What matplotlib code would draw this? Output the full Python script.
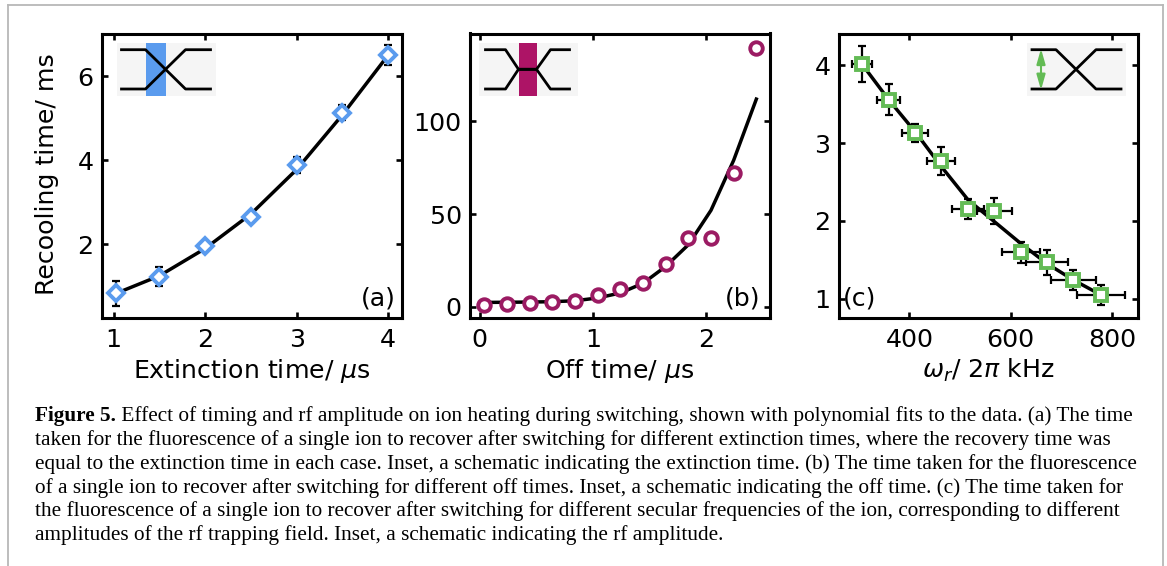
import matplotlib
matplotlib.use("Agg")
import matplotlib.pyplot as plt
from matplotlib.patches import Rectangle
from matplotlib.lines import Line2D

W, H = 1167, 566

# Panel (a)
a_x = [1.025, 1.5, 2.0, 2.5, 3.0, 3.5, 4.0]
a_y = [0.83, 1.23, 1.95, 2.66, 3.89, 5.13, 6.50]
a_yerr = [0.30, 0.22, 0.12, 0.12, 0.20, 0.18, 0.24]
a_fit = [0.83, 1.25, 1.90, 2.72, 3.78, 5.08, 6.50]

# Panel (b)
b_x = [0.04, 0.24, 0.44, 0.64, 0.84, 1.04, 1.24, 1.44, 1.64, 1.84, 2.04, 2.24, 2.44]
b_y = [1.1, 1.3, 1.8, 2.5, 3.2, 6.3, 9.5, 12.6, 23.3, 36.8, 37.3, 72.2, 139.7]
b_fit = [2.3, 2.4, 2.5, 2.7, 3.2, 4.7, 7.4, 12.6, 21.7, 33.4, 52.0, 79.0, 112.0]

# Panel (c)
c_x = [306, 359, 411, 463, 516, 568, 620, 672, 724, 778]
c_y = [4.02, 3.56, 3.13, 2.77, 2.15, 2.13, 1.60, 1.47, 1.24, 1.05]
c_xerr = [20, 22, 25, 28, 32, 35, 38, 42, 44, 47]
c_yerr = [0.235, 0.20, 0.12, 0.175, 0.13, 0.17, 0.135, 0.16, 0.13, 0.13]
c_fit = [4.02, 3.56, 3.15, 2.70, 2.27, 1.99, 1.71, 1.45, 1.24, 1.05]

caption_lead = "Figure 5."
caption_lines = [
    " Effect of timing and rf amplitude on ion heating during switching, shown with polynomial fits to the data. (a) The time",
    "taken for the fluorescence of a single ion to recover after switching for different extinction times, where the recovery time was",
    "equal to the extinction time in each case. Inset, a schematic indicating the extinction time. (b) The time taken for the fluorescence",
    "of a single ion to recover after switching for different off times. Inset, a schematic indicating the off time. (c) The time taken for",
    "the fluorescence of a single ion to recover after switching for different secular frequencies of the ion, corresponding to different",
    "amplitudes of the rf trapping field. Inset, a schematic indicating the rf amplitude.",
]

BLUE = "#5A9BEE"
PURPLE = "#9B1B63"
MAGENTA = "#AD1466"
GREEN = "#63BB55"
FS = 18.2

plt.rcParams["font.family"] = "DejaVu Sans"
plt.rcParams["mathtext.fontset"] = "dejavusans"
fig = plt.figure(figsize=(W / 100, H / 100), dpi=100, facecolor="white")


def px_axes(l, t, r, b, **kw):
    return fig.add_axes([l / W, 1 - b / H, (r - l) / W, (b - t) / H], **kw)


def style(ax, xlim, ylim, xticks, yticks, xlabel):
    ax.set_xlim(*xlim)
    ax.set_ylim(*ylim)
    ax.set_xticks(xticks)
    ax.set_yticks(yticks)
    ax.tick_params(direction="in", top=True, right=True, length=4.5, width=1.9,
                   labelsize=FS, pad=6)
    ax.tick_params(axis="x", pad=7.5)
    for s in ax.spines.values():
        s.set_linewidth(2.2)
    ax.set_xlabel(xlabel, fontsize=FS, labelpad=3.5)


ax_a = px_axes(102, 33.5, 402, 318)
ax_b = px_axes(470, 33.5, 769.5, 318)
ax_c = px_axes(838.7, 33.5, 1138.3, 318)

style(ax_a, (0.872, 4.153), (0.245, 7.02), [1, 2, 3, 4], [2, 4, 6], r"Extinction time/ $\mu$s")
style(ax_b, (-0.085, 2.556), (-6.1, 147.4), [0, 1, 2], [0, 50, 100], r"Off time/ $\mu$s")
style(ax_c, (260.5, 852), (0.752, 4.41), [400, 600, 800], [1, 2, 3, 4], r"$\omega_r$/ 2$\pi$ kHz")
ax_a.set_ylabel("Recooling time/ ms", fontsize=FS)
ax_a.yaxis.set_label_coords(-0.145, 0.507)

ekw = dict(fmt="none", ecolor="black", elinewidth=1.6, capsize=3.2, capthick=1.6, zorder=2)
ax_a.errorbar(a_x, a_y, yerr=a_yerr, **ekw)
ax_a.plot(a_x, a_fit, color="black", lw=2.5, zorder=3)
ax_a.plot(a_x, a_y, ls="none", marker="D", ms=8.4, mfc="white", mec=BLUE, mew=2.8, zorder=4)

ax_b.plot(b_x, b_fit, color="black", lw=2.5, zorder=3)
ax_b.plot(b_x, b_y, ls="none", marker="o", ms=9, mfc="white", mec=PURPLE, mew=2.8, zorder=4)

ax_c.errorbar(c_x, c_y, xerr=c_xerr, yerr=c_yerr, **ekw)
ax_c.plot(c_x, c_fit, color="black", lw=2.5, zorder=3)
ax_c.plot(c_x, c_y, ls="none", marker="s", ms=9, mfc="white", mec=GREEN, mew=2.8, zorder=4)

ax_a.text(0.922, 0.07, "(a)", transform=ax_a.transAxes, fontsize=FS, ha="center", va="center")
ax_b.text(0.911, 0.07, "(b)", transform=ax_b.transAxes, fontsize=FS, ha="center", va="center")
ax_c.text(0.071, 0.07, "(c)", transform=ax_c.transAxes, fontsize=FS, ha="center", va="center")


def inset(left):
    ins = px_axes(left, 43, left + 99, 95.5, zorder=5)
    ins.set_xlim(0, 99)
    ins.set_ylim(52.5, 0)
    ins.axis("off")
    ins.add_patch(Rectangle((0, 0), 99, 52.5, fc="#F5F5F5", ec="none", zorder=0))
    return ins


TOP, MID, BOT = 6.7, 26.3, 46
xa = [5, 29, 49, 69, 94]
ins_a = inset(116.5)
ins_a.add_patch(Rectangle((29, 0), 20, 52.5, fc=BLUE, ec="none", zorder=1))
ins_a.plot(xa, [TOP, TOP, MID, BOT, BOT], color="black", lw=2.0, zorder=2)
ins_a.plot(xa, [BOT, BOT, MID, TOP, TOP], color="black", lw=2.0, zorder=2)

xb = [7, 27, 40, 58, 72, 91]
ins_b = inset(478.5)
ins_b.add_patch(Rectangle((40, 0), 18, 52.5, fc=MAGENTA, ec="none", zorder=1))
ins_b.plot(xb, [TOP, TOP, MID, MID, BOT, BOT], color="black", lw=2.0, zorder=2)
ins_b.plot(xb, [BOT, BOT, MID, MID, TOP, TOP], color="black", lw=2.0, zorder=2)

ins_c = inset(1027)
ins_c.plot(xa, [TOP, TOP, MID, BOT, BOT], color="black", lw=2.0, zorder=2)
ins_c.plot(xa, [BOT, BOT, MID, TOP, TOP], color="black", lw=2.0, zorder=2)
ins_c.annotate("", xy=(14, TOP - 1), xytext=(14, BOT + 1),
               arrowprops=dict(arrowstyle="<|-|>,head_length=0.7,head_width=0.2", color=GREEN,
                               lw=1.5, mutation_scale=13, shrinkA=0, shrinkB=0), zorder=3)

# page frame
frame = dict(color="#B8B8B8", lw=1.3, transform=fig.transFigure)
fig.add_artist(Line2D([7.5 / W, 7.5 / W], [0, 1 - 4.5 / H], **frame))
fig.add_artist(Line2D([7.5 / W, 1163 / W], [1 - 4.5 / H, 1 - 4.5 / H], **frame))
fig.add_artist(Line2D([1163 / W, 1163 / W], [0, 1 - 4.5 / H], **frame))

# caption
serif = dict(family="Liberation Serif", fontsize=15.3, va="baseline")
x0 = 35 / W
base = 421
pitch = 23.85
lead = fig.text(x0, 1 - base / H, caption_lead, fontweight="bold", **serif)
fig.canvas.draw()
ext = lead.get_window_extent()
fig.text(ext.x1 / W, 1 - base / H, caption_lines[0], **serif)
for i, line in enumerate(caption_lines[1:], start=1):
    fig.text(x0, 1 - (base + i * pitch) / H, line, **serif)

fig.savefig("out.png", dpi=100)
